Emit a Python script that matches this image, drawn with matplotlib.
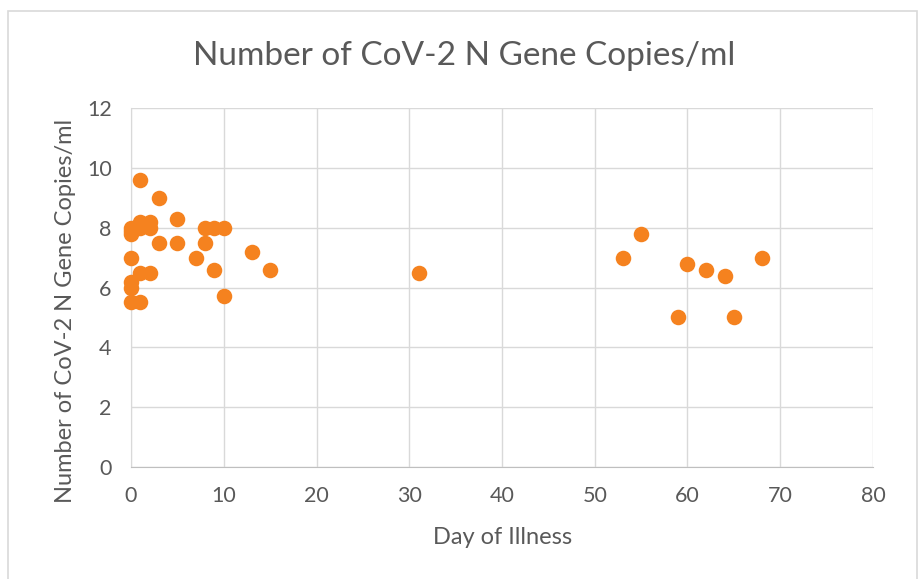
import matplotlib.pyplot as plt
from matplotlib.patches import Rectangle

plt.rcParams['font.family'] = ['Lato', 'DejaVu Sans']

# day of illness / gene copies (log10 per ml)
day = [0, 0, 0, 0, 0, 0, 0,
       1, 1, 1, 1, 1,
       2, 2, 2,
       3, 3, 5, 5, 7, 8, 8, 9, 9, 10, 10, 13, 15,
       31, 53, 55, 59, 60, 62, 64, 65, 68]
copies = [8.0, 7.8, 7.0, 6.2, 6.0, 5.5, 7.9,
          9.6, 8.2, 8.0, 6.5, 5.5,
          8.2, 8.0, 6.5,
          9.0, 7.5, 8.3, 7.5, 7.0, 8.0, 7.5, 8.0, 6.6, 8.0, 5.7, 7.2, 6.6,
          6.5, 7.0, 7.8, 5.0, 6.8, 6.6, 6.4, 5.0, 7.0]

x_ticks = list(range(0, 81, 10))
y_ticks = list(range(0, 13, 2))

W, H = 920, 579
fig = plt.figure(figsize=(W / 100, H / 100), dpi=100)
fig.patches.append(Rectangle((8 / W, -0.1), (917 - 8) / W, 1.1 - 11 / H,
                             transform=fig.transFigure, fill=False,
                             edgecolor='#D9D9D9', linewidth=1.2))

ax = fig.add_axes([131 / W, 1 - 467 / H, (873 - 131) / W, (467 - 108) / H])
ax.scatter(day, copies, s=125, color='#F5821F', zorder=3, linewidths=0,
           clip_on=False)

ax.set_xlim(0, 80)
ax.set_ylim(0, 12)
ax.set_xticks(x_ticks)
ax.set_yticks(y_ticks)
ax.grid(True, color='#D9D9D9', linewidth=1)
ax.set_axisbelow(True)
for s in ['top', 'right']:
    ax.spines[s].set_visible(False)
ax.spines['left'].set_color('#D9D9D9')
ax.spines['bottom'].set_color('#BFBFBF')
ax.tick_params(length=0, labelsize=15.5, labelcolor='#595959', pad=14)

grey = '#595959'
fig.text(464 / W, 1 - 56 / H, 'Number of CoV-2 N Gene Copies/ml',
         ha='center', va='center', fontsize=24, color=grey)
fig.text(66 / W, 1 - 311 / H, 'Number of CoV-2 N Gene Copies/ml',
         ha='center', va='center', rotation=90, fontsize=17, color=grey)
fig.text(503 / W, 1 - 538 / H, 'Day of Illness',
         ha='center', va='center', fontsize=17, color=grey)

fig.savefig('out.png', dpi=100)
